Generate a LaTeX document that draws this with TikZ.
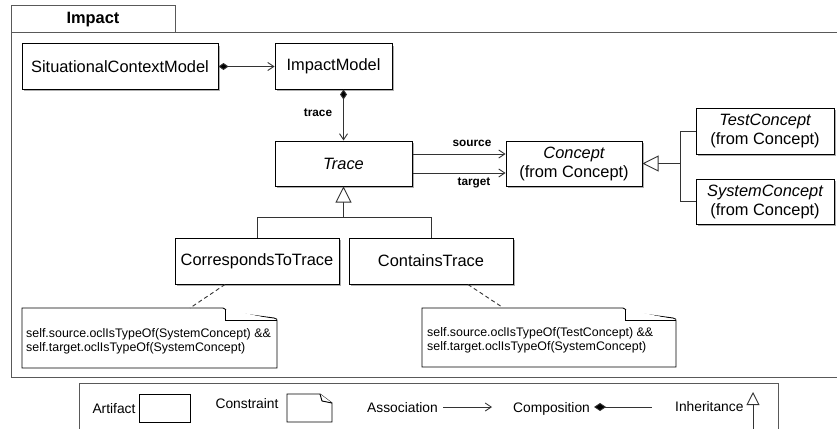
\documentclass[tikz,border=0pt]{standalone}
\usepackage{fontspec}
\setmainfont{Liberation Sans}
\usetikzlibrary{arrows.meta,shadows}
\begin{document}
\begin{tikzpicture}[x=1pt,y=-1pt,
  cls/.style={draw=black,line width=1pt,fill=white,inner sep=0pt,align=center,
    font=\fontsize{16.4}{19}\selectfont,
    drop shadow={shadow xshift=1.8pt,shadow yshift=-2pt,fill=black!45,opacity=0.7}},
  conn/.style={draw=black!80,line width=0.9pt},
  assoc/.style={conn,-{Straight Barb[length=6pt,width=8pt,line width=0.9pt]}},
  comp/.style={conn,{Diamond[fill=black,length=10pt,width=7pt]}-{Straight Barb[length=6pt,width=8pt,line width=0.9pt]}},
  inh/.style={conn,-{Triangle[open,fill=white,length=16pt,width=16pt,line width=0.9pt]}},
  role/.style={font=\fontsize{11.8}{13}\selectfont\bfseries,inner sep=0pt},
  notetext/.style={font=\fontsize{12.4}{14}\selectfont,align=left,inner sep=0pt,anchor=north west},
  note/.style={draw=black,line width=0.9pt,fill=white},
  legtext/.style={font=\fontsize{13.8}{16}\selectfont,inner sep=0pt},
  frame/.style={draw=black!65,line width=1pt}]
\useasboundingbox (0,0) rectangle (837,428);
\fill[white] (0,0) rectangle (837,428);

% package frame
\draw[frame] (11,33) rectangle (175,6);
\node[font=\fontsize{16.4}{19}\selectfont\bfseries] (pkg) at (93,20) {Impact};
\draw[frame] (837,33) -- (11,33) -- (11,377) -- (837,377);

% classes
\node[cls,minimum width=196pt,minimum height=45pt] (scm) at (120,66.5) {SituationalContextModel};
\node[cls,minimum width=117pt,minimum height=45pt] (im) at (333.5,66.5) {ImpactModel};
\node[cls,minimum width=137pt,minimum height=45pt] (trace) at (343.5,163.5) {\itshape Trace};
\node[cls,minimum width=136pt,minimum height=45pt] (concept) at (574,163.5) {\itshape Concept\\(from Concept)};
\node[cls,minimum width=138pt,minimum height=46pt] (tc) at (765,131) {\itshape TestConcept\\(from Concept)};
\node[cls,minimum width=138pt,minimum height=45pt] (sc) at (765,201.5) {\itshape SystemConcept\\(from Concept)};
\node[cls,minimum width=164pt,minimum height=46pt] (ctt) at (257,261) {CorrespondsToTrace};
\node[cls,minimum width=164pt,minimum height=46pt] (ct) at (431,261) {ContainsTrace};

% connectors
\draw[comp] (scm.east) -- (im.west);
\draw[comp] (trace.north |- im.south) -- (trace.north);
\node[role] (lbltrace) at (318,113) {trace};
\draw[assoc] ([yshift=9.5pt]trace.east) -- ([yshift=9.5pt]concept.west);
\draw[assoc] ([yshift=-9.5pt]trace.east) -- ([yshift=-9.5pt]concept.west);
\node[role] (lblsrc) at (472,143) {source};
\node[role] (lbltgt) at (474,183) {target};

\coordinate (cj) at (680,163.5);
\draw[conn] (tc.west) -| (cj);
\draw[conn] (sc.west) -| (cj);
\draw[inh] (cj) -- (concept.east);

\coordinate (tj) at (343.5,217);
\draw[conn] (ctt.north) |- (tj);
\draw[conn] (ct.north) |- (tj);
\draw[inh] (tj) -- (trace.south);

% notes
\draw[note] (22,368) -- (22,308) -- (223,308) .. controls (226,308) and (226,311) .. (228,312) -- (274,318) .. controls (277,319) .. (277,321) -- (277,368) -- cycle;
\draw[note] (225,309) -- (225,320) -- (277,320);
\node[notetext] (n1) at (26,328) {self.source.oclIsTypeOf(SystemConcept) \&\&\\self.target.oclIsTypeOf(SystemConcept)};
\coordinate (n1top) at (190,308);
\draw[conn,dashed,dash pattern=on 4pt off 3pt] ([xshift=-32pt]ctt.south) -- (n1top);

\draw[note] (422,367) -- (422,308) -- (623,308) .. controls (626,308) and (626,311) .. (628,312) -- (673,318) .. controls (676,319) .. (676,321) -- (676,367) -- cycle;
\draw[note] (625,309) -- (625,320) -- (676,320);
\node[notetext] (n2) at (427,327) {self.source.oclIsTypeOf(TestConcept) \&\&\\self.target.oclIsTypeOf(SystemConcept)};
\coordinate (n2top) at (502,307);
\draw[conn,dashed,dash pattern=on 4pt off 3pt] ([xshift=37pt]ct.south) -- (n2top);

% legend
\draw[frame] (79,430) -- (79,383) -- (778,383) -- (778,430);
\node[legtext,anchor=base] (lartifact) at (114,413) {Artifact};
\draw[note] (139,394) rectangle (190,422);
\node[legtext,anchor=base] (lconstraint) at (247,408) {Constraint};
\draw[note] (287,422) -- (287,394) -- (320,394) -- (332,403) -- (332,422) -- cycle;
\draw[note] (320,394) -- (322,401) -- (332,403);
\node[legtext,anchor=base east] (lassoc) at (438,412) {Association};
\coordinate (la1) at (443,407);
\coordinate (la2) at (492,407);
\draw[assoc] (la1) -- (la2);
\node[legtext,anchor=base west] (lcomp) at (513,412) {Composition};
\coordinate (lc1) at (594,407);
\coordinate (lc2) at (652,407);
\draw[conn,{Diamond[fill=black,length=12pt,width=8pt]}-] (lc1) -- (lc2);
\node[legtext,anchor=base west] (linh) at (675,411) {Inheritance};
\coordinate (li1) at (753,430);
\coordinate (li2) at (753,392);
\draw[conn,-{Triangle[open,fill=white,length=13pt,width=13pt,line width=0.9pt]}] (li1) -- (li2);
\end{tikzpicture}
\end{document}
